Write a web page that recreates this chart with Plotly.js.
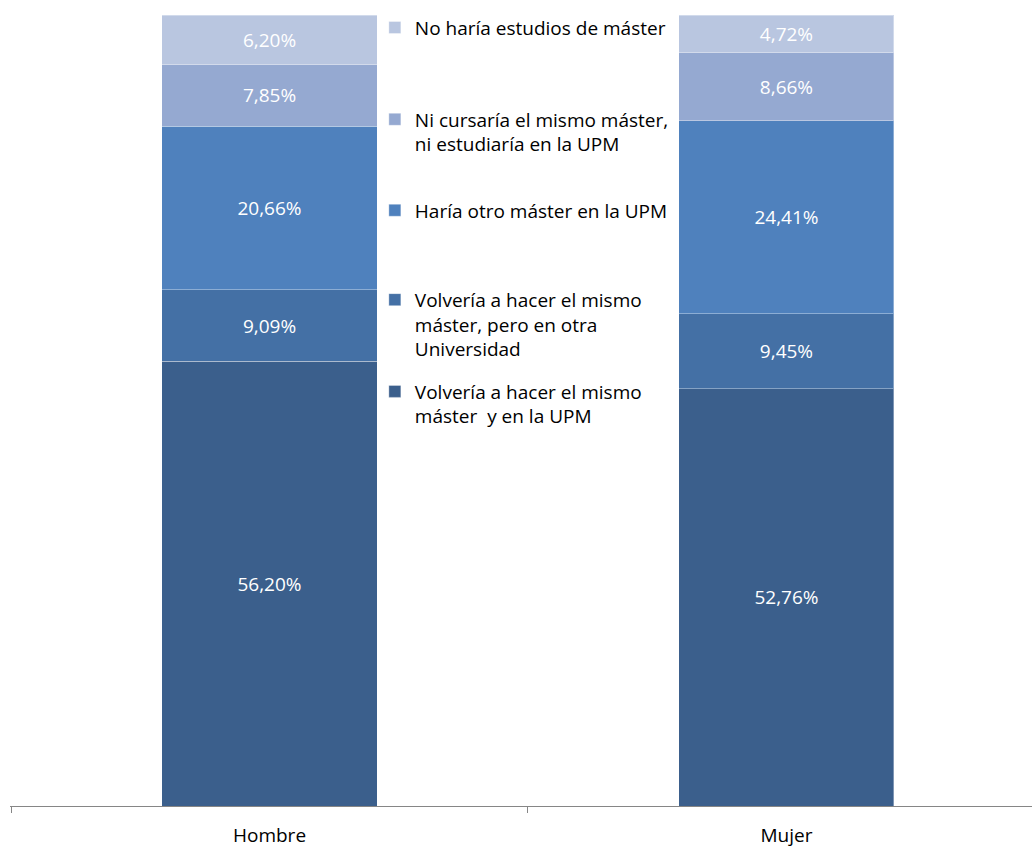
<!DOCTYPE html>
<html>
<head>
<meta charset="utf-8">
<script src="https://cdn.plot.ly/plotly-3.0.1.min.js"></script>
<style>html,body{margin:0;padding:0;background:#fff;overflow:hidden}</style>
</head>
<body>
<div id="chart" style="width:1032px;height:850px"></div>
<script>
const categories = ['Hombre', 'Mujer'];
const seriesNames = [
  'Volvería a hacer el mismo<br>máster  y en la UPM',
  'Volvería a hacer el mismo<br>máster, pero en otra<br>Universidad',
  'Haría otro máster en la UPM',
  'Ni cursaría el mismo máster,<br>ni estudiaría en la UPM',
  'No haría estudios de máster'
];
const volveriaUPM = [56.20, 52.76];
const volveriaOtra = [9.09, 9.45];
const hariaOtro = [20.66, 24.41];
const niCursaria = [7.85, 8.66];
const noHaria = [6.20, 4.72];
const seriesValues = [volveriaUPM, volveriaOtra, hariaOtro, niCursaria, noHaria];
const colors = ['#3B5F8C', '#4470A5', '#4F81BD', '#95A9D1', '#B9C6E0'];
const legendIds = ['legend5', 'legend4', 'legend3', 'legend2', 'legend'];

const font = '"Open Sans", sans-serif';
const fs = 19;

const traces = seriesValues.map((vals, i) => ({
  type: 'bar',
  name: seriesNames[i],
  x: categories,
  y: vals,
  width: 0.416,
  marker: {color: colors[i], line: {color: 'rgba(255,255,255,0.35)', width: 1}},
  text: vals,
  texttemplate: '%{y:.2f}%',
  textposition: 'inside',
  insidetextanchor: 'middle',
  textangle: 0,
  constraintext: 'none',
  textfont: {color: '#FFFFFF', size: fs, family: font},
  hoverinfo: 'skip',
  legend: legendIds[i]
}));

function leg(y) {
  return {x: 0.357, y: y, xanchor: 'left', yanchor: 'top', bgcolor: 'rgba(0,0,0,0)',
          font: {size: fs, family: font, color: '#000'}, valign: 'top', borderwidth: 0};
}

const layout = {
  width: 1032, height: 850,
  margin: {l: 10, r: 0, t: 15, b: 44},
  barmode: 'stack',
  showlegend: true,
  separators: ',.',
  paper_bgcolor: '#fff', plot_bgcolor: '#fff',
  font: {family: font, size: fs, color: '#000'},
  xaxis: {
    type: 'category',
    range: [-0.502, 1.475],
    showline: true, linecolor: '#868686', linewidth: 1,
    ticks: 'outside', tickson: 'boundaries', ticklen: 6, tickcolor: '#868686',
    ticklabelstandoff: 12,
    showgrid: false, zeroline: false,
    tickfont: {size: fs, family: font, color: '#000'}
  },
  yaxis: {range: [0, 100], visible: false, showgrid: false, zeroline: false},
  legend: leg(1.008),
  legend2: leg(0.892),
  legend3: leg(0.777),
  legend4: leg(0.664),
  legend5: leg(0.548)
};

Plotly.newPlot('chart', traces, layout, {staticPlot: true, displayModeBar: false});
</script>
</body>
</html>
